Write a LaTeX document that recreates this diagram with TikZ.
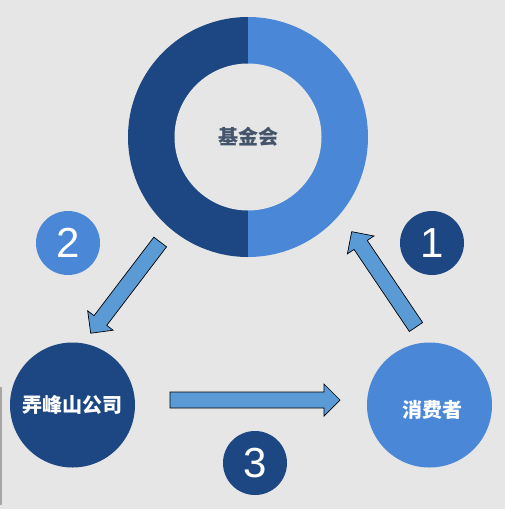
\documentclass[tikz,border=0pt]{standalone}
\usepackage{fontspec}
\setmainfont{Liberation Sans}
\newfontfamily\cjk{Noto Sans CJK SC}
\definecolor{bgc}{HTML}{E6E6E6}
\definecolor{darkb}{HTML}{1D4783}
\definecolor{lightb}{HTML}{4A87D6}
\definecolor{arrowb}{HTML}{5B9BD5}
\definecolor{fundtxt}{HTML}{44546A}
\tikzset{
  bigcircle/.style={circle, minimum size=125pt, inner sep=0pt, text=white, font=\cjk\bfseries\fontsize{20}{20}\selectfont},
  numcircle/.style={circle, minimum size=64pt, inner sep=0pt, text=white, font=\fontsize{42}{42}\selectfont},
  blockarrow/.style={draw=black, line width=0.7pt, fill=arrowb, line join=miter},
}
\begin{document}
\begin{tikzpicture}[x=1pt,y=-1pt]
\fill[bgc] (0,0) rectangle (505,509);
\useasboundingbox (0,0) rectangle (505,509);
\fill[gray!70] (0,387) rectangle (2,505);
% donut
\coordinate (dc) at (248,137);
\fill[darkb] ([yshift=120pt]dc) arc[start angle=90, end angle=270, radius=120pt] -- cycle;
\fill[lightb] ([yshift=120pt]dc) arc[start angle=90, end angle=-90, radius=120pt] -- cycle;
\node[circle, fill=bgc, minimum size=147pt, inner sep=0pt, text=fundtxt, font=\cjk\bfseries\fontsize{20}{20}\selectfont] (fund) at (dc) {基金会};
% main circles
\node[bigcircle, fill=darkb] (company) at (72.5,405) {弄峰山公司};
\node[bigcircle, fill=lightb] (consumer) at (429.5,405) {};
\node[text=white, font=\cjk\bfseries\fontsize{20}{20}\selectfont] (consumertext) at (432,410) {消费者};
% number circles
\node[numcircle, fill=lightb] (n2) at (68,243) {2};
\node[numcircle, fill=darkb] (n1) at (432,243) {1};
\node[numcircle, fill=darkb] (n3) at (255,463) {3};
% block arrows
\begin{scope}[shift={(416,327)}, rotate=124]
\draw[blockarrow] (0,-8) -- (99,-8) -- (99,-16) -- (115,0) -- (99,16) -- (99,8) -- (0,8) -- cycle;
\end{scope}
\begin{scope}[shift={(160.2,242)}, rotate=-127.3]
\draw[blockarrow] (0,-8) -- (98.7,-8) -- (98.7,-16) -- (114.7,0) -- (98.7,16) -- (98.7,8) -- (0,8) -- cycle;
\end{scope}
\begin{scope}[shift={(170,400)}]
\draw[blockarrow] (0,-8) -- (154,-8) -- (154,-16) -- (170,0) -- (154,16) -- (154,8) -- (0,8) -- cycle;
\end{scope}
\end{tikzpicture}
\end{document}
